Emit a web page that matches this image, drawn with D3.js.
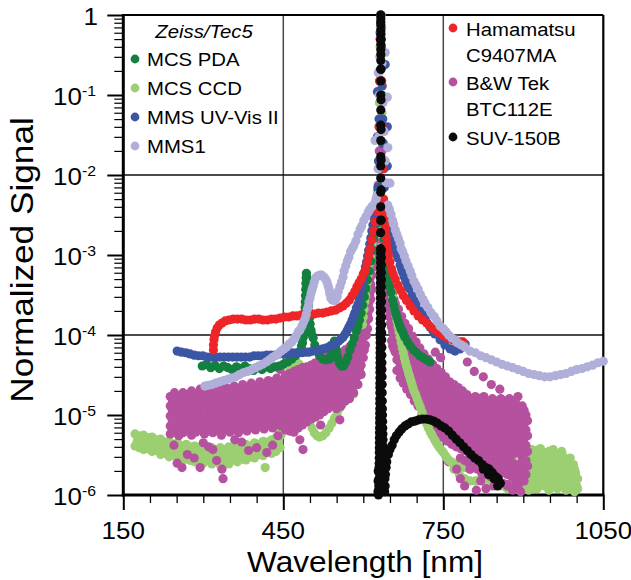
<!DOCTYPE html>
<html><head><meta charset="utf-8">
<script src="https://cdn.jsdelivr.net/npm/d3@7"></script>
<style>
body{margin:0;background:#fff}
svg{display:block}
text{font-family:"Liberation Sans",Arial,Helvetica,sans-serif;fill:#000}
</style>
</head><body>
<svg id="c" width="631" height="580"></svg>
<script>
// ---------------- DATA (wavelength nm, normalized signal) ----------------
const mcsCCD = [
[172,5.8e-6],[172,4.1e-6],[176,4.7e-6],[180,5.5e-6],[180,3.9e-6],[184,4.6e-6],[188,5.6e-6],[188,3.7e-6],[192,4.5e-6],[196,5.2e-6],[196,3.8e-6],[200,4.3e-6],
[204,5.3e-6],[204,3.5e-6],[208,4.1e-6],[212,4.9e-6],[212,3.6e-6],[216,4.0e-6],[220,5.0e-6],[220,3.2e-6],[224,3.9e-6],[228,4.6e-6],[228,3.3e-6],[232,3.7e-6],
[236,4.7e-6],[236,3.0e-6],[240,3.7e-6],[244,4.3e-6],[244,3.1e-6],[248,3.6e-6],[252,4.5e-6],[252,2.9e-6],[256,3.5e-6],[260,4.1e-6],[260,2.74e-6],[264,3.5e-6],
[268,4.3e-6],[268,2.8e-6],[272,3.3e-6],[276,4.0e-6],[276,2.7e-6],[280,3.3e-6],[284,4.1e-6],[284,2.6e-6],[288,3.2e-6],[292,3.9e-6],[292,2.74e-6],[296,3.2e-6],
[300,4.0e-6],[300,2.5e-6],[304,3.1e-6],[308,3.8e-6],[308,2.7e-6],[312,3.1e-6],[316,3.9e-6],[316,2.44e-6],[320,3.1e-6],[324,3.7e-6],[324,2.6e-6],[328,3.0e-6],
[332,3.9e-6],[332,2.37e-6],[336,3.1e-6],[340,3.7e-6],[340,2.7e-6],[344,3.2e-6],[348,4.0e-6],[348,2.44e-6],[352,3.2e-6],[356,3.8e-6],[356,2.74e-6],[360,3.3e-6],
[364,4.1e-6],[364,2.6e-6],[368,3.4e-6],[372,4.0e-6],[372,2.8e-6],[376,3.5e-6],[380,4.3e-6],[380,2.74e-6],[384,3.6e-6],[388,4.1e-6],[388,3.0e-6],[392,3.7e-6],
[396,4.5e-6],[396,2.9e-6],[400,3.8e-6],[404,4.3e-6],[404,3.2e-6],[408,3.9e-6],[412,4.7e-6],[412,3.1e-6],[416,4.0e-6],[416,2.2e-6],[420,4.6e-6],[420,3.4e-6],
[424,4.0e-6],[428,4.9e-6],[428,3.3e-6],[432,4.2e-6],[436,5.2e-6],[436,3.5e-6],[440,4.7e-6],[444,6.1e-6],[444,3.9e-6],
[445.5,5.6e-6],[447,6.9e-6],[448.5,8.0e-6],[450,9.2e-6],[451,1.05e-5],[452,1.22e-5],[453,1.4e-5],[454,1.63e-5],[455,1.9e-5],[456,2.18e-5],[457.5,2.5e-5],
[459,2.9e-5],[462,3.6e-5],[466,4.1e-5],[470,4.5e-5],[475,4.6e-5],[480,4.3e-5],[485,3.9e-5],[489,3.3e-5],[492,2.6e-5],[493,2.3e-5],[494,1.94e-5],[495,1.7e-5],
[496,1.45e-5],[497,1.25e-5],[498,1.09e-5],[499.5,9.7e-6],[501,8.4e-6],[504,6.9e-6],[508,6.0e-6],[513,5.5e-6],[518,5.3e-6],[524,5.5e-6],[530,6.0e-6],
[536,6.9e-6],[541,7.9e-6],[546,9.2e-6],[551,1.06e-5],[556,1.22e-5],[561,1.37e-5],[566,1.5e-5],[568,1.9e-5],[570,2.37e-5],[571,3.3e-5],[572,4.9e-5],
[573,5.6e-5],[574,6.5e-5],[575,6.3e-5],[576,5.5e-5],[577,4.6e-5],[578,3.7e-5],[579,2.9e-5],[580,2.18e-5],[582,1.83e-5],[585,2.37e-5],
[588,3.3e-5],[589.5,3.9e-5],[591,4.6e-5],[592.5,5.6e-5],[594,7.1e-5],[595.5,8.9e-5],[597,1.09e-4],[598.5,1.35e-4],[600,1.68e-4],[601.5,2.1e-4],
[603,2.6e-4],[604.5,3.1e-4],[606,3.8e-4],[607.5,4.6e-4],[609,5.5e-4],[610.5,6.5e-4],[612,7.9e-4],[613.5,9.4e-4],[615,1.15e-3],[616.5,1.4e-3],
[618,1.73e-3],[619.5,2.1e-3],[621,2.6e-3],[622.5,3.2e-3],[624,4.0e-3],[625.5,5.0e-3],[627,6.5e-3],
[629,0.015],[630.5,0.08],[631.5,0.4],[632.5,1.0],[633.5,0.35],[635,0.06],[636.2,0.012],
[637,5.0e-3],[638,3.7e-3],[639,2.9e-3],[640,2.3e-3],[641,1.9e-3],[642,1.6e-3],[643.5,1.3e-3],[645,1.05e-3],[646.5,8.5e-4],[648,7.0e-4],
[649.5,5.8e-4],[651,4.9e-4],[653,4.1e-4],[655,3.0e-4],[657,2.5e-4],[659,2.1e-4],[661,1.75e-4],[663,1.5e-4],[665,1.28e-4],[667,1.1e-4],
[669,9.4e-5],[671,8.0e-5],[673,6.9e-5],[675,6.0e-5],[677,5.2e-5],[679,4.6e-5],[681,4.1e-5],[683,3.7e-5],[685,3.3e-5],[687,3.0e-5],
[689,2.7e-5],[691,2.45e-5],[693,2.2e-5],[695,2.0e-5],[698,1.8e-5],[701,1.6e-5],[704,1.4e-5],[707,1.25e-5],[710,1.1e-5],[713,9.7e-6],
[716,8.7e-6],[719,7.7e-6],[722,6.9e-6],[726,6.1e-6],[729,5.6e-6],[733,5.0e-6],[736,4.6e-6],[740,4.2e-6],[743,3.9e-6],[747,3.6e-6],
[750,3.4e-6],[754,3.1e-6],[757,2.9e-6],[761,2.7e-6],[764,2.6e-6],
[770,2.5e-6],[770,2.1e-6],[780,2.3e-6],[780,1.8e-6],[790,2.2e-6],[790,1.6e-6],[800,2.1e-6],[800,1.5e-6],[810,2.4e-6],[810,1.5e-6],
[820,2.2e-6],[820,1.6e-6],[830,2.4e-6],[830,1.4e-6],[840,2.1e-6],[840,1.3e-6],[850,2.3e-6],[850,1.5e-6],[860,2.6e-6],[860,1.3e-6],
[870,2.2e-6],[870,1.2e-6],[880,2.9e-6],[880,1.5e-6],[890,3.2e-6],[890,1.7e-6],
[900,3.9e-6],[900,2.1e-6],[900,1.3e-6],[904,2.9e-6],[908,3.5e-6],[908,2.3e-6],[908,1.5e-6],[912,2.7e-6],[916,3.7e-6],[916,1.9e-6],[916,1.3e-6],
[920,2.2e-6],[924,3.2e-6],[924,2.6e-6],[924,1.6e-6],[928,2.9e-6],[932,3.8e-6],[932,2.1e-6],[932,1.5e-6],[936,1.7e-6],[940,3.1e-6],[940,2.2e-6],[940,1.3e-6],
[944,2.6e-6],[948,3.5e-6],[948,1.8e-6],[948,1.15e-6],[952,2.9e-6],[956,3.7e-6],[956,2.3e-6],[956,1.5e-6],[960,1.7e-6],[964,3.1e-6],[964,1.9e-6],[964,1.2e-6],
[968,2.7e-6],[972,3.5e-6],[972,2.4e-6],[972,1.6e-6],[976,2.1e-6],[980,2.7e-6],[980,1.7e-6],[980,1.15e-6],[984,1.5e-6],[988,2.9e-6],[988,2.1e-6],[988,1.3e-6],
[992,1.7e-6],[996,2.1e-6],[996,1.5e-6],[996,1.1e-6],[1000,1.3e-6],
[902,3.3e-6],[902,2.4e-6],[902,1.7e-6],[902,1.2e-6],[906,3.6e-6],[906,2.6e-6],[906,1.9e-6],[906,1.35e-6],[910,3.1e-6],[910,2.2e-6],[910,1.6e-6],[910,1.15e-6],
[914,3.4e-6],[914,2.5e-6],[914,1.8e-6],[918,3.0e-6],[918,2.3e-6],[918,1.6e-6],[918,1.2e-6],[922,3.6e-6],[922,2.0e-6],[922,1.4e-6],
[926,3.3e-6],[926,2.4e-6],[926,1.7e-6],[926,1.2e-6],[930,2.9e-6],[930,2.0e-6],[930,1.35e-6],[934,3.5e-6],[934,2.5e-6],[934,1.8e-6],
[938,3.0e-6],[938,1.95e-6],[938,1.4e-6],[942,3.4e-6],[942,2.4e-6],[942,1.6e-6],[946,2.9e-6],[946,2.1e-6],[946,1.3e-6],
[950,3.2e-6],[950,2.5e-6],[950,1.7e-6],[954,2.8e-6],[954,2.0e-6],[954,1.3e-6],[958,3.3e-6],[958,2.6e-6],[958,1.9e-6],[958,1.25e-6],
[962,2.7e-6],[962,2.1e-6],[962,1.45e-6],[966,3.0e-6],[966,2.3e-6],[966,1.6e-6],[970,2.8e-6],[970,1.9e-6],[970,1.35e-6],
[974,3.1e-6],[974,2.2e-6],[974,1.5e-6],[978,2.4e-6],[978,1.9e-6],[978,1.3e-6],[982,2.6e-6],[982,2.0e-6],[982,1.4e-6],
[986,2.5e-6],[986,1.7e-6],[986,1.2e-6],[990,2.3e-6],[990,1.8e-6],[990,1.3e-6],[994,2.4e-6],[994,1.6e-6],[994,1.2e-6],
[998,1.9e-6],[998,1.4e-6],[1002,1.6e-6],[1002,1.2e-6]
];

const mcsPDA = [
[298,4.1e-5],[306,4.3e-5],[314,3.9e-5],[322,4.2e-5],[330,3.8e-5],[338,4.1e-5],[346,3.9e-5],[354,3.7e-5],[362,4.0e-5],[370,3.8e-5],[378,4.1e-5],
[386,3.8e-5],[394,3.6e-5],[402,3.9e-5],[410,3.7e-5],[418,4.0e-5],[426,3.8e-5],[434,4.0e-5],[442,4.1e-5],[450,4.3e-5],[458,4.6e-5],[466,5.0e-5],
[473,5.5e-5],[479,6.1e-5],[484,7.3e-5],[486,8.0e-5],[487.5,9.4e-5],[488.5,1.1e-4],[489.2,1.3e-4],[489.8,1.55e-4],[490.3,1.85e-4],[490.8,2.2e-4],
[491.2,2.6e-4],[491.6,3.1e-4],[492,3.7e-4],[492.4,4.4e-4],[492.8,5.2e-4],[493.3,5.9e-4],[494,5.3e-4],[494.6,4.6e-4],[495.2,3.9e-4],[495.8,3.3e-4],
[496.5,2.74e-4],[497.3,2.3e-4],[498.2,1.94e-4],[499.2,1.63e-4],[500.4,1.37e-4],[502,1.15e-4],[504,1.0e-4],[506,9.2e-5],[509,7.5e-5],[513,6.3e-5],
[518,5.5e-5],[524,5.0e-5],[530,4.9e-5],[537,5.0e-5],[539,5.5e-5],[541,6.1e-5],[542.5,6.7e-5],[544,7.5e-5],[545,8.0e-5],[546,8.4e-5],[547,7.9e-5],
[548,7.3e-5],[549.5,6.5e-5],[551,5.6e-5],[553,5.0e-5],[555,4.5e-5],[557,4.3e-5],[559,4.1e-5],[563,4.1e-5],[567,4.6e-5],[571,5.3e-5],[575,6.5e-5],
[579,7.7e-5],[583,9.2e-5],[587,1.12e-4],[590,1.3e-4],[593,1.54e-4],[596,1.88e-4],[599,2.37e-4],[602,3.0e-4],[605,3.8e-4],[608,4.9e-4],[611,6.3e-4],
[614,8.4e-4],[617,1.15e-3],[620,1.63e-3],[621.5,2.0e-3],[623,2.44e-3],[624.5,3.1e-3],[626,3.9e-3],[627,5.0e-3],[628,6.5e-3],
[629,0.012],[630,0.04],[631,0.15],[632,0.5],[633,1.0],[634,0.4],[634.8,0.1],[635.4,0.025],[636,8e-3],
[636.5,4.2e-3],[637,3.2e-3],[637.6,2.5e-3],[638.3,2.0e-3],[639,1.6e-3],[640,1.3e-3],[641,1.1e-3],[642,9.2e-4],[643.5,7.7e-4],[645,6.5e-4],
[646.5,5.5e-4],[648,4.7e-4],[650,4.0e-4],[652,3.4e-4],[655,2.74e-4],[657,2.4e-4],[659,2.1e-4],[661,1.85e-4],[663,1.68e-4],[665.5,1.5e-4],
[668,1.33e-4],[670.5,1.2e-4],[673,1.12e-4],[675.5,1.03e-4],[678,9.4e-5],[683,8.2e-5],[688,7.3e-5],[694,6.5e-5],[700,6.0e-5],[706,5.5e-5],
[712,5.2e-5],[718,4.9e-5],[725,4.6e-5]
];

const bwTek = [
[238,1.7e-5],[238,1.3e-5],[238,9.7e-6],[238,7.3e-6],[238,5.8e-6],
[246,1.9e-5],[246,1.4e-5],[246,1.1e-5],[246,7.7e-6],[246,6.1e-6],
[254,1.7e-5],[254,1.3e-5],[254,9.2e-6],[254,6.9e-6],[254,5.5e-6],
[262,1.9e-5],[262,1.5e-5],[262,1.1e-5],[262,7.9e-6],[262,6.0e-6],
[270,1.8e-5],[270,1.3e-5],[270,1.0e-5],[270,7.5e-6],[270,6.3e-6],
[278,2.0e-5],[278,1.5e-5],[278,1.1e-5],[278,8.4e-6],[278,5.6e-6],
[286,1.8e-5],[286,1.4e-5],[286,1.0e-5],[286,7.1e-6],[286,6.1e-6],
[294,2.1e-5],[294,1.5e-5],[294,1.2e-5],[294,8.7e-6],[294,6.5e-6],
[302,1.9e-5],[302,1.4e-5],[302,1.0e-5],[302,7.5e-6],[302,5.8e-6],
[310,2.1e-5],[310,1.6e-5],[310,1.2e-5],[310,8.9e-6],[310,6.3e-6],
[318,1.9e-5],[318,1.4e-5],[318,1.1e-5],[318,7.9e-6],[318,6.0e-6],
[326,2.2e-5],[326,1.6e-5],[326,1.2e-5],[326,9.2e-6],[326,6.7e-6],
[334,2.0e-5],[334,1.5e-5],[334,1.1e-5],[334,7.7e-6],[334,5.6e-6],
[342,2.2e-5],[342,1.7e-5],[342,1.2e-5],[342,9.2e-6],[342,6.5e-6],
[350,2.1e-5],[350,1.5e-5],[350,1.2e-5],[350,8.4e-6],[350,6.1e-6],
[358,2.3e-5],[358,1.7e-5],[358,1.3e-5],[358,9.4e-6],[358,6.9e-6],
[366,2.1e-5],[366,1.6e-5],[366,1.1e-5],[366,8.2e-6],[366,6.0e-6],
[374,2.4e-5],[374,1.8e-5],[374,1.3e-5],[374,9.7e-6],[374,6.7e-6],
[382,2.2e-5],[382,1.6e-5],[382,1.2e-5],[382,8.7e-6],[382,6.3e-6],
[390,2.5e-5],[390,1.9e-5],[390,1.4e-5],[390,1.0e-5],[390,7.1e-6],
[398,2.3e-5],[398,1.7e-5],[398,1.3e-5],[398,9.2e-6],[398,6.5e-6],
[406,2.6e-5],[406,1.9e-5],[406,1.5e-5],[406,1.1e-5],[406,7.3e-6],
[414,2.4e-5],[414,1.8e-5],[414,1.3e-5],[414,9.4e-6],[414,6.7e-6],
[422,2.7e-5],[422,2.1e-5],[422,1.5e-5],[422,1.1e-5],[422,7.5e-6],
[430,2.6e-5],[430,1.9e-5],[430,1.4e-5],[430,1.0e-5],[430,6.9e-6],
[438,2.9e-5],[438,2.2e-5],[438,1.6e-5],[438,1.2e-5],[438,7.7e-6],
[446,2.7e-5],[446,2.0e-5],[446,1.5e-5],[446,1.1e-5],[446,7.3e-6],
[242,1.55e-5],[242,1.15e-5],[242,8.5e-6],[242,6.6e-6],[250,1.6e-5],[250,1.2e-5],[250,8.2e-6],[250,6.3e-6],
[258,1.6e-5],[258,1.25e-5],[258,9.0e-6],[258,6.6e-6],[266,1.65e-5],[266,1.2e-5],[266,8.8e-6],[266,6.9e-6],
[274,1.7e-5],[274,1.25e-5],[274,9.5e-6],[274,7.0e-6],[282,1.7e-5],[282,1.2e-5],[282,9.0e-6],[282,6.5e-6],
[290,1.75e-5],[290,1.3e-5],[290,1.0e-5],[290,7.3e-6],[298,1.7e-5],[298,1.3e-5],[298,9.2e-6],[298,6.8e-6],
[306,1.8e-5],[306,1.35e-5],[306,1.0e-5],[306,7.2e-6],[314,1.75e-5],[314,1.3e-5],[314,9.5e-6],[314,7.0e-6],
[322,1.85e-5],[322,1.4e-5],[322,1.0e-5],[322,7.4e-6],[330,1.8e-5],[330,1.3e-5],[330,9.5e-6],[330,6.8e-6],
[338,1.9e-5],[338,1.45e-5],[338,1.05e-5],[338,7.5e-6],[346,1.85e-5],[346,1.4e-5],[346,1.0e-5],[346,7.2e-6],
[354,1.95e-5],[354,1.45e-5],[354,1.1e-5],[354,7.8e-6],[362,1.9e-5],[362,1.35e-5],[362,1.0e-5],[362,7.2e-6],
[370,2.0e-5],[370,1.5e-5],[370,1.1e-5],[370,7.8e-6],[378,2.0e-5],[378,1.45e-5],[378,1.05e-5],[378,7.5e-6],
[386,2.1e-5],[386,1.6e-5],[386,1.15e-5],[386,8.2e-6],[394,2.1e-5],[394,1.5e-5],[394,1.1e-5],[394,7.8e-6],
[402,2.2e-5],[402,1.65e-5],[402,1.25e-5],[402,8.8e-6],[410,2.15e-5],[410,1.6e-5],[410,1.15e-5],[410,8.2e-6],
[418,2.35e-5],[418,1.75e-5],[418,1.3e-5],[418,9.0e-6],[426,2.3e-5],[426,1.65e-5],[426,1.2e-5],[426,8.5e-6],
[434,2.5e-5],[434,1.85e-5],[434,1.35e-5],[434,9.5e-6],[442,2.45e-5],[442,1.75e-5],[442,1.3e-5],[442,9.2e-6],
[450,2.6e-5],[450,1.9e-5],[450,1.4e-5],[450,1.0e-5],[450,7.5e-6],
[245,4.2e-6],[251,2.5e-6],[260,2.2e-6],[270,3.2e-6],[283,2.9e-6],[294,2.2e-6],[300,4.5e-6],[310,4.0e-6],[318,3.7e-6],[325,2.7e-6],
[335,2.1e-6],[337,1.6e-6],[359,4.9e-6],[372,4.6e-6],[385,3.6e-6],[400,3.9e-6],[419,3.4e-6],[430,4.2e-6],[440,5.5e-6],[444,3.7e-5],
[454,3.1e-5],[454,2.3e-5],[454,1.7e-5],[454,1.2e-5],[454,8.9e-6],[454,6.5e-6],
[462,3.3e-5],[462,2.4e-5],[462,1.8e-5],[462,1.3e-5],[462,9.2e-6],[462,6.3e-6],
[470,3.5e-5],[470,2.6e-5],[470,1.9e-5],[470,1.4e-5],[470,9.7e-6],[470,6.1e-6],
[478,3.7e-5],[478,2.7e-5],[478,2.0e-5],[478,1.5e-5],[478,1.0e-5],[478,6.9e-6],
[486,3.9e-5],[486,2.9e-5],[486,2.1e-5],[486,1.5e-5],[486,1.1e-5],[486,7.5e-6],
[494,4.0e-5],[494,3.0e-5],[494,2.2e-5],[494,1.6e-5],[494,1.2e-5],[494,8.2e-6],
[502,4.2e-5],[502,3.2e-5],[502,2.3e-5],[502,1.7e-5],[502,1.2e-5],[502,8.9e-6],
[510,4.5e-5],[510,3.4e-5],[510,2.4e-5],[510,1.8e-5],[510,1.3e-5],[510,9.4e-6],
[518,4.7e-5],[518,3.6e-5],[518,2.6e-5],[518,1.9e-5],[518,1.4e-5],[518,1.0e-5],
[526,5.2e-5],[526,3.9e-5],[526,2.8e-5],[526,2.1e-5],[526,1.5e-5],[526,1.1e-5],
[534,5.5e-5],[534,4.1e-5],[534,3.0e-5],[534,2.2e-5],[534,1.6e-5],[534,1.2e-5],
[542,6.1e-5],[542,4.6e-5],[542,3.4e-5],[542,2.4e-5],[542,1.8e-5],[542,1.3e-5],
[550,5.6e-5],[550,4.2e-5],[550,3.1e-5],[550,2.2e-5],[550,1.6e-5],[550,1.2e-5],
[558,6.0e-5],[558,4.5e-5],[558,3.4e-5],[558,2.5e-5],[558,1.8e-5],[558,1.3e-5],
[566,6.5e-5],[566,4.9e-5],[566,3.7e-5],[566,2.6e-5],[566,2.0e-5],[566,1.5e-5],
[574,7.1e-5],[574,5.3e-5],[574,4.0e-5],[574,3.0e-5],[574,2.2e-5],[574,1.6e-5],
[582,7.9e-5],[582,6.1e-5],[582,4.6e-5],[582,3.5e-5],[582,2.6e-5],[582,1.9e-5],
[590,9.7e-5],[590,7.5e-5],[590,5.6e-5],[590,4.2e-5],[590,3.2e-5],[590,2.4e-5],
[596,1.3e-4],[596,1.0e-4],[596,7.5e-5],[596,5.6e-5],[596,4.2e-5],[596,3.2e-5],
[458,2.8e-5],[458,2.1e-5],[458,1.5e-5],[458,1.1e-5],[458,7.8e-6],[466,3.0e-5],[466,2.2e-5],[466,1.6e-5],[466,1.15e-5],[466,7.7e-6],
[474,3.1e-5],[474,2.3e-5],[474,1.7e-5],[474,1.2e-5],[474,8.2e-6],[482,3.3e-5],[482,2.4e-5],[482,1.75e-5],[482,1.25e-5],[482,8.8e-6],
[490,3.4e-5],[490,2.55e-5],[490,1.85e-5],[490,1.35e-5],[490,9.5e-6],[498,3.6e-5],[498,2.6e-5],[498,1.9e-5],[498,1.4e-5],[498,1.0e-5],
[506,3.8e-5],[506,2.8e-5],[506,2.0e-5],[506,1.45e-5],[506,1.05e-5],[514,4.0e-5],[514,3.0e-5],[514,2.2e-5],[514,1.6e-5],[514,1.15e-5],
[522,4.4e-5],[522,3.3e-5],[522,2.4e-5],[522,1.75e-5],[522,1.25e-5],[530,4.7e-5],[530,3.5e-5],[530,2.6e-5],[530,1.9e-5],[530,1.35e-5],
[538,5.0e-5],[538,3.7e-5],[538,2.7e-5],[538,2.0e-5],[538,1.45e-5],[546,5.2e-5],[546,3.9e-5],[546,2.8e-5],[546,2.0e-5],[546,1.45e-5],
[554,5.1e-5],[554,3.8e-5],[554,2.8e-5],[554,2.1e-5],[554,1.5e-5],[562,5.6e-5],[562,4.2e-5],[562,3.1e-5],[562,2.3e-5],[562,1.7e-5],
[570,6.0e-5],[570,4.5e-5],[570,3.4e-5],[570,2.5e-5],[570,1.85e-5],[578,6.8e-5],[578,5.1e-5],[578,3.8e-5],[578,2.9e-5],[578,2.2e-5],
[586,8.5e-5],[586,6.6e-5],[586,5.0e-5],[586,3.8e-5],[586,2.8e-5],[593,1.1e-4],[593,8.5e-5],[593,6.4e-5],[593,4.8e-5],[593,3.6e-5],
[481,4.9e-6],[487,3.7e-6],[556,8.7e-6],[520,7.5e-6],
[600,1.5e-4],[600,1.1e-4],[600,7.5e-5],[600,5.2e-5],
[604,2.6e-4],[604,1.7e-4],[604,1.15e-4],[604,7.5e-5],
[608,4.2e-4],[608,2.7e-4],[608,1.8e-4],[608,1.2e-4],
[612,7.5e-4],[612,4.9e-4],[612,3.2e-4],[612,2.1e-4],
[616,1.2e-3],[616,8.2e-4],[616,5.6e-4],[616,3.7e-4],
[620,1.8e-3],[620,1.2e-3],[620,8.7e-4],
[623,2.7e-3],[623,2.0e-3],[626,4.2e-3],[626,3.2e-3],[628,7.5e-3],[628,5.6e-3],
[602,2.0e-4],[602,1.4e-4],[602,9.5e-5],[602,6.5e-5],[606,3.3e-4],[606,2.2e-4],[606,1.5e-4],[606,1.0e-4],
[610,5.6e-4],[610,3.8e-4],[610,2.5e-4],[610,1.6e-4],[614,9.5e-4],[614,6.5e-4],[614,4.3e-4],[614,2.8e-4],
[618,1.5e-3],[618,1.0e-3],[618,7.0e-4],[621.5,2.2e-3],[621.5,1.5e-3],[621.5,1.05e-3],[624.5,3.4e-3],[624.5,2.5e-3],[627,5.8e-3],[627,4.3e-3],
[630,0.02],[631,0.08],[632,0.3],[632.5,0.8],[633,1.0],[633.5,0.5],[634,0.15],[634.5,0.05],[635,0.02],[636,7e-3],
[637,3.7e-3],[637,2.4e-3],[637,1.5e-3],
[640,2.1e-3],[640,1.3e-3],[640,8.7e-4],[640,5.6e-4],
[643,1.2e-3],[643,7.5e-4],[643,4.9e-4],[643,3.2e-4],
[647,6.9e-4],[647,4.6e-4],[647,3.1e-4],[647,2.1e-4],
[651,4.5e-4],[651,3.1e-4],[651,2.1e-4],[651,1.4e-4],
[655,3.2e-4],[655,2.2e-4],[655,1.5e-4],[655,1.1e-4],[655,7.3e-5],
[660,2.5e-4],[660,1.8e-4],[660,1.3e-4],[660,8.7e-5],[660,6.1e-5],
[666,2.1e-4],[666,1.5e-4],[666,1.0e-4],[666,7.3e-5],[666,5.2e-5],
[672,1.7e-4],[672,1.2e-4],[672,8.7e-5],[672,6.1e-5],[672,4.3e-5],[672,3.1e-5],
[678,1.4e-4],[678,1.0e-4],[678,7.3e-5],[678,5.2e-5],[678,3.7e-5],[678,2.6e-5],
[685,1.2e-4],[685,8.4e-5],[685,6.1e-5],[685,4.3e-5],[685,3.1e-5],[685,2.2e-5],
[692,9.7e-5],[692,7.1e-5],[692,5.2e-5],[692,3.7e-5],[692,2.6e-5],[692,1.8e-5],
[699,8.2e-5],[699,6.0e-5],[699,4.3e-5],[699,3.1e-5],[699,2.2e-5],[699,1.5e-5],
[706,6.9e-5],[706,5.0e-5],[706,3.7e-5],[706,2.6e-5],[706,1.8e-5],[706,1.3e-5],
[714,5.8e-5],[714,4.2e-5],[714,3.1e-5],[714,2.2e-5],[714,1.6e-5],[714,1.1e-5],
[722,5.0e-5],[722,3.7e-5],[722,2.6e-5],[722,1.9e-5],[722,1.4e-5],[722,9.7e-6],
[730,4.3e-5],[730,3.2e-5],[730,2.3e-5],[730,1.7e-5],[730,1.2e-5],[730,8.4e-6],
[738,3.8e-5],[738,2.7e-5],[738,2.0e-5],[738,1.5e-5],[738,1.0e-5],[738,7.3e-6],
[746,3.4e-5],[746,2.4e-5],[746,1.8e-5],[746,1.3e-5],[746,9.2e-6],[746,6.5e-6],
[754,3.0e-5],[754,2.2e-5],[754,1.6e-5],[754,1.2e-5],[754,8.2e-6],[754,5.8e-6],
[762,2.6e-5],[762,1.9e-5],[762,1.4e-5],[762,1.0e-5],[762,7.3e-6],[762,5.2e-6],
[770,2.4e-5],[770,1.8e-5],[770,1.3e-5],[770,9.4e-6],[770,6.7e-6],[770,4.7e-6],
[778,2.2e-5],[778,1.6e-5],[778,1.2e-5],[778,8.4e-6],[778,6.1e-6],[778,4.3e-6],
[786,2.0e-5],[786,1.5e-5],[786,1.1e-5],[786,7.7e-6],[786,5.6e-6],[786,4.0e-6],
[794,1.8e-5],[794,1.3e-5],[794,9.7e-6],[794,7.1e-6],[794,5.2e-6],[794,3.7e-6],
[802,1.6e-5],[802,1.2e-5],[802,8.9e-6],[802,6.5e-6],[802,4.7e-6],[802,3.5e-6],
[810,1.7e-5],[810,1.2e-5],[810,8.9e-6],[810,6.5e-6],[810,4.6e-6],[810,3.3e-6],
[818,1.6e-5],[818,1.2e-5],[818,8.4e-6],[818,6.1e-6],[818,4.3e-6],[818,3.1e-6],
[826,1.7e-5],[826,1.2e-5],[826,8.4e-6],[826,6.0e-6],[826,4.2e-6],[826,2.9e-6],
[834,1.5e-5],[834,1.1e-5],[834,7.9e-6],[834,5.6e-6],[834,4.0e-6],[834,2.8e-6],
[842,1.6e-5],[842,1.2e-5],[842,8.2e-6],[842,5.8e-6],[842,4.1e-6],[842,2.7e-6],
[850,1.5e-5],[850,1.1e-5],[850,7.5e-6],[850,5.3e-6],[850,3.8e-6],[850,2.6e-6],
[858,1.6e-5],[858,1.1e-5],[858,7.9e-6],[858,5.5e-6],[858,3.8e-6],[858,2.4e-6],
[866,1.5e-5],[866,1.0e-5],[866,7.3e-6],[866,5.0e-6],[866,3.5e-6],[866,2.3e-6],
[874,1.6e-5],[874,1.1e-5],[874,7.7e-6],[874,5.3e-6],[874,3.6e-6],[874,2.2e-6],
[882,1.5e-5],[882,1.1e-5],[882,7.3e-6],[882,4.9e-6],[882,3.3e-6],[882,1.9e-6],
[890,1.7e-5],[890,1.2e-5],[890,7.7e-6],[890,5.2e-6],[890,3.4e-6],[890,1.7e-6],[890,1.3e-6],
[898,1.3e-5],[898,9.2e-6],[898,6.1e-6],[898,4.1e-6],[898,2.7e-6],[898,1.6e-6],
[905,1.0e-5],[905,6.5e-6],[905,4.2e-6],[905,2.7e-6],[905,1.8e-6],
[638.5,2.8e-3],[638.5,1.9e-3],[638.5,1.2e-3],[638.5,8.0e-4],[641.5,1.6e-3],[641.5,1.05e-3],[641.5,6.8e-4],[641.5,4.4e-4],
[645,9.0e-4],[645,6.0e-4],[645,3.9e-4],[645,2.6e-4],[649,5.6e-4],[649,3.8e-4],[649,2.6e-4],[649,1.7e-4],
[653,3.8e-4],[653,2.6e-4],[653,1.8e-4],[653,1.25e-4],[653,8.5e-5],[657.5,2.8e-4],[657.5,2.0e-4],[657.5,1.4e-4],[657.5,9.7e-5],[657.5,6.7e-5],
[663,1.95e-4],[663,1.4e-4],[663,9.8e-5],[663,6.9e-5],[663,4.9e-5],[663,3.6e-5],
[669,1.6e-4],[669,1.15e-4],[669,8.2e-5],[669,5.8e-5],[669,4.1e-5],[669,2.9e-5],
[675,1.35e-4],[675,9.7e-5],[675,7.0e-5],[675,5.0e-5],[675,3.5e-5],[675,2.5e-5],
[681.5,1.15e-4],[681.5,8.2e-5],[681.5,5.9e-5],[681.5,4.2e-5],[681.5,3.0e-5],[681.5,2.1e-5],
[688.5,9.5e-5],[688.5,6.8e-5],[688.5,4.9e-5],[688.5,3.5e-5],[688.5,2.5e-5],[688.5,1.8e-5],
[695.5,8.0e-5],[695.5,5.8e-5],[695.5,4.2e-5],[695.5,3.0e-5],[695.5,2.1e-5],[695.5,1.5e-5],
[702.5,6.8e-5],[702.5,4.9e-5],[702.5,3.5e-5],[702.5,2.5e-5],[702.5,1.8e-5],[702.5,1.3e-5],
[710,5.4e-5],[710,3.9e-5],[710,2.8e-5],[710,2.0e-5],[710,1.45e-5],[710,1.0e-5],
[718,4.6e-5],[718,3.4e-5],[718,2.45e-5],[718,1.75e-5],[718,1.25e-5],[718,8.7e-6],
[726,4.0e-5],[726,2.9e-5],[726,2.1e-5],[726,1.5e-5],[726,1.05e-5],[726,7.5e-6],
[734,3.5e-5],[734,2.5e-5],[734,1.85e-5],[734,1.3e-5],[734,9.2e-6],[734,6.6e-6],
[742,3.0e-5],[742,2.2e-5],[742,1.6e-5],[742,1.15e-5],[742,8.2e-6],[742,5.8e-6],
[750,2.7e-5],[750,2.0e-5],[750,1.45e-5],[750,1.05e-5],[750,7.4e-6],[750,5.2e-6],
[758,2.4e-5],[758,1.75e-5],[758,1.3e-5],[758,9.3e-6],[758,6.6e-6],[758,4.7e-6],
[766,2.2e-5],[766,1.6e-5],[766,1.15e-5],[766,8.4e-6],[766,6.0e-6],[766,4.3e-6],
[774,2.05e-5],[774,1.5e-5],[774,1.1e-5],[774,7.9e-6],[774,5.7e-6],[774,4.0e-6],
[782,1.9e-5],[782,1.4e-5],[782,1.0e-5],[782,7.3e-6],[782,5.3e-6],[782,3.8e-6],[782,2.9e-6],
[790,1.7e-5],[790,1.25e-5],[790,9.2e-6],[790,6.7e-6],[790,4.9e-6],[790,3.6e-6],[790,2.7e-6],
[798,1.5e-5],[798,1.1e-5],[798,8.3e-6],[798,6.1e-6],[798,4.5e-6],[798,3.3e-6],[798,2.5e-6],
[806,1.45e-5],[806,1.05e-5],[806,7.7e-6],[806,5.6e-6],[806,4.0e-6],[806,3.0e-6],[806,2.3e-6],
[814,1.4e-5],[814,1.0e-5],[814,7.3e-6],[814,5.2e-6],[814,3.7e-6],[814,2.7e-6],[814,2.1e-6],
[822,1.45e-5],[822,1.0e-5],[822,7.1e-6],[822,5.0e-6],[822,3.5e-6],[822,2.5e-6],[822,1.9e-6],
[830,1.3e-5],[830,9.5e-6],[830,6.7e-6],[830,4.8e-6],[830,3.4e-6],[830,2.4e-6],[830,1.8e-6],
[838,1.35e-5],[838,9.8e-6],[838,6.9e-6],[838,4.9e-6],[838,3.4e-6],[838,2.3e-6],[838,1.7e-6],
[846,1.3e-5],[846,9.2e-6],[846,6.4e-6],[846,4.5e-6],[846,3.2e-6],[846,2.2e-6],[846,1.6e-6],
[854,1.35e-5],[854,9.4e-6],[854,6.6e-6],[854,4.6e-6],[854,3.1e-6],[854,2.0e-6],[854,1.5e-6],
[862,1.3e-5],[862,8.9e-6],[862,6.2e-6],[862,4.2e-6],[862,2.9e-6],[862,1.9e-6],[862,1.4e-6],
[870,1.35e-5],[870,9.2e-6],[870,6.4e-6],[870,4.4e-6],[870,2.9e-6],[870,1.8e-6],[870,1.35e-6],
[878,1.3e-5],[878,8.9e-6],[878,6.0e-6],[878,4.1e-6],[878,2.6e-6],[878,1.7e-6],[878,1.25e-6],
[886,1.4e-5],[886,9.5e-6],[886,6.3e-6],[886,4.2e-6],[886,2.4e-6],[886,1.5e-6],
[894,1.15e-5],[894,7.5e-6],[894,5.0e-6],[894,3.3e-6],[894,2.1e-6],[894,1.45e-6],
[901.5,1.15e-5],[901.5,7.8e-6],[901.5,5.1e-6],[901.5,3.4e-6],[901.5,2.2e-6],[901.5,1.5e-6],
[908,8.5e-6],[908,5.5e-6],[908,3.5e-6],[908,2.3e-6],
[735,6.1e-5],[745,5.2e-5],[770,6.5e-5],[787,7.1e-5],[795,4.6e-5],[808,3.5e-5],[825,3.0e-5],[840,2.4e-5],[856,2.1e-5],
[760,2.6e-6],[775,2.1e-6],[782,1.6e-6],[790,1.3e-6],[800,2.1e-6],[812,1.15e-6],[820,1.5e-6],[830,1.2e-6],[845,1.3e-6],[870,1.3e-6],[880,1.15e-6],[895,1.1e-6]
];

const mmsUvVis = [
[251,6.3e-5],[259,6.1e-5],[267,6.0e-5],[275,5.8e-5],[283,5.6e-5],[291,5.5e-5],[299,5.5e-5],[307,5.3e-5],[315,5.3e-5],[323,5.3e-5],[331,5.3e-5],
[339,5.3e-5],[347,5.3e-5],[355,5.3e-5],[363,5.3e-5],[371,5.3e-5],[379,5.3e-5],[387,5.3e-5],[395,5.5e-5],[403,5.5e-5],[411,5.5e-5],[419,5.6e-5],
[427,5.6e-5],[435,5.6e-5],[443,5.8e-5],[451,5.8e-5],[459,5.8e-5],[467,6.0e-5],[475,6.0e-5],[485,6.0e-5],[492,6.1e-5],[498,6.1e-5],[505,6.3e-5],
[511,6.3e-5],[518,6.5e-5],[524,6.7e-5],[531,6.9e-5],[538,7.3e-5],[544,7.5e-5],[549,7.9e-5],[554,8.4e-5],[558,8.9e-5],[562,9.4e-5],[566,1.03e-4],
[570,1.15e-4],[573,1.26e-4],[576,1.37e-4],[579,1.54e-4],[582,1.73e-4],[584,1.88e-4],[587,2.18e-4],[590,2.44e-4],[592,2.9e-4],[594,3.4e-4],
[596,3.9e-4],[598,4.5e-4],[600,5.3e-4],[602,6.1e-4],[604,7.1e-4],[606,8.2e-4],[608,9.7e-4],[610,1.15e-3],[612,1.37e-3],[614,1.63e-3],
[616,2.0e-3],[618,2.37e-3],[620,2.9e-3],[622,3.45e-3],[624,4.2e-3],[626,5.2e-3],
[627.5,7e-3],[628.5,0.015],[629.5,0.05],[630.5,0.2],[631.5,0.6],[632.5,1.0],[633.5,0.7],[634.5,0.35],[635.5,0.13],[636.5,0.05],[637.5,0.025],
[638.5,0.012],[639.5,7e-3],[626.5,0.03],[626.5,0.11],[641,0.24],[645,0.04],[645,0.013],
[643,4.2e-3],[644.5,3.7e-3],[646,3.2e-3],[648,2.7e-3],[650,2.37e-3],[652,2.1e-3],[654,1.83e-3],[655.5,1.6e-3],[657,1.41e-3],[659,1.25e-3],
[661,1.12e-3],[663,1.0e-3],[665,9.2e-4],[669,7.5e-4],[671.5,6.7e-4],[674,6.0e-4],[677,5.3e-4],[680,4.7e-4],[683,4.2e-4],[686,3.8e-4],
[691,3.1e-4],[695,2.74e-4],[699,2.44e-4],[706,2.0e-4],[711,1.8e-4],[716,1.58e-4],[720,1.4e-4],[725,1.26e-4],[730,1.15e-4],[734,1.03e-4],
[744,8.7e-5],[753,7.5e-5],[763,6.7e-5],[772,6.3e-5],[781,6.7e-5],[791,7.7e-5]
];

const hamamatsu = [
[319,6.5e-5],[319,7.5e-5],[320,8.7e-5],[321,9.7e-5],[323,1.09e-4],[326,1.22e-4],[330,1.33e-4],[335,1.41e-4],[341,1.5e-4],[348,1.54e-4],
[356,1.58e-4],[364,1.58e-4],[372,1.58e-4],[380,1.54e-4],[388,1.54e-4],[396,1.58e-4],[404,1.58e-4],[412,1.54e-4],[420,1.54e-4],[428,1.58e-4],
[436,1.58e-4],[444,1.63e-4],[452,1.68e-4],[460,1.68e-4],[468,1.73e-4],[476,1.73e-4],[484,1.78e-4],[492,1.78e-4],[500,1.83e-4],[508,1.83e-4],
[516,1.88e-4],[524,1.88e-4],[532,1.94e-4],[540,2.0e-4],[548,2.05e-4],[555,2.18e-4],[562,2.3e-4],[568,2.5e-4],[574,2.74e-4],[579,3.1e-4],
[584,3.5e-4],[588,4.0e-4],[592,4.5e-4],[596,5.0e-4],[600,5.8e-4],[604,6.5e-4],[607,8.0e-4],[610,9.8e-4],[613,1.2e-3],[616,1.55e-3],
[619,2.0e-3],[622,2.6e-3],[625,3.5e-3],[627,4.6e-3],
[628.5,0.012],[629.5,0.04],[630.5,0.15],[631.5,0.5],[632.5,1.0],[633.5,0.5],[634.5,0.15],[635.5,0.04],[636.5,0.012],[638,5e-3],
[639,3.2e-3],[640,2.8e-3],[641,2.37e-3],[642,2.0e-3],[643,1.68e-3],[644,1.4e-3],[645,1.22e-3],[646,1.08e-3],[647,9.7e-4],[650,8.2e-4],
[653,6.7e-4],[656,5.8e-4],[660,5.0e-4],[665,4.2e-4],[670,3.6e-4],[675,3.1e-4],[681,2.7e-4],[688,2.3e-4],[695,2.0e-4],[703,1.73e-4],
[711,1.54e-4],[719,1.41e-4],[727,1.26e-4],[735,1.15e-4],[743,1.06e-4],[751,9.7e-5],[759,9.2e-5],[767,8.7e-5],[775,8.4e-5],[783,8.2e-5],[787,8.2e-5]
];

const mms1 = [
[303,2.3e-5],[309,2.35e-5],[316,2.4e-5],[323,2.5e-5],[331,2.6e-5],[338,2.7e-5],[346,2.8e-5],[353,2.9e-5],[361,3.0e-5],[368,3.2e-5],[376,3.4e-5],
[383,3.5e-5],[391,3.7e-5],[398,3.9e-5],[404,4.1e-5],[411,4.3e-5],[418,4.6e-5],[424,4.9e-5],[429,5.2e-5],[435,5.5e-5],[440,5.8e-5],[446,6.3e-5],
[451,6.7e-5],[456,7.1e-5],[461,7.7e-5],[466,8.2e-5],[470,8.9e-5],[474,9.7e-5],[478,1.1e-4],[481,1.15e-4],[485,1.3e-4],[488,1.45e-4],[491,1.6e-4],
[493,1.8e-4],[495,2.1e-4],[497,2.3e-4],[498,2.6e-4],[500,2.9e-4],[502,3.3e-4],[504,3.7e-4],[506,4.1e-4],[508,4.6e-4],[511,5.2e-4],[515,5.5e-4],
[519,5.6e-4],[522,5.6e-4],[526,5.3e-4],[529,5.0e-4],[532,4.6e-4],[534,4.1e-4],[536,3.7e-4],[537,3.3e-4],[539,2.9e-4],[542,2.74e-4],[545,2.7e-4],
[548,2.74e-4],[551,3.0e-4],[553,3.5e-4],[556,4.0e-4],[559,4.6e-4],[562,5.3e-4],[564,6.3e-4],[567,7.3e-4],[570,8.4e-4],[573,9.4e-4],[576,1.1e-3],
[579,1.2e-3],[582,1.3e-3],[586,1.5e-3],[590,1.8e-3],[594,2.1e-3],[597,2.3e-3],[601,2.7e-3],[605,3.0e-3],[609,3.4e-3],[612,3.7e-3],[616,4.0e-3],
[619,4.2e-3],[622,4.5e-3],[624,5.0e-3],[626,5.6e-3],
[628,0.012],[629,0.03],[630,0.1],[631,0.3],[632,0.7],[633,1.0],[634,0.6],[635,0.25],[637,0.08],[639,0.035],[641,0.015],[643,8e-3],
[628,0.19],[641,0.34],[645,0.094],[622,0.027],[646,0.022],[650,7.9e-3],
[646,4.2e-3],[649,3.7e-3],[652,3.2e-3],[655,2.7e-3],[657,2.4e-3],[660,2.05e-3],[663,1.8e-3],[666,1.6e-3],[669,1.4e-3],[671,1.2e-3],[674,1.1e-3],
[677,9.7e-4],[680,8.4e-4],[684,7.3e-4],[688,6.3e-4],[691,5.5e-4],[695,4.7e-4],[699,4.2e-4],[703,3.7e-4],[707,3.2e-4],[712,2.8e-4],[716,2.5e-4],
[721,2.2e-4],[727,1.9e-4],[733,1.7e-4],[738,1.5e-4],[744,1.3e-4],[750,1.2e-4],[755,1.1e-4],[760,1.0e-4],[766,9.2e-5],[772,8.7e-5],[778,7.9e-5],
[784,7.5e-5],[790,7.1e-5],[800,6.3e-5],[810,6.0e-5],[820,5.5e-5],[830,5.2e-5],[840,4.9e-5],[850,4.6e-5],[860,4.3e-5],[870,4.1e-5],[880,3.9e-5],
[890,3.7e-5],[900,3.5e-5],[910,3.3e-5],[920,3.2e-5],[930,3.1e-5],[940,3.0e-5],[950,3.0e-5],[960,3.1e-5],[970,3.2e-5],[980,3.3e-5],[990,3.5e-5],
[1000,3.7e-5],[1010,3.8e-5],[1020,4.0e-5],[1030,4.2e-5],[1040,4.5e-5],[1050,4.7e-5]
];

const suv150b = [
[627.5,1.1e-6],[627.8,1.5e-6],[628,2.0e-6],
[628.5,1.0e-6],[628.7,1.15e-6],[629,1.3e-6],[629.15,1.45e-6],[629.3,1.6e-6],[629.45,1.9e-6],[629.6,2.2e-6],[629.75,2.5e-6],[629.9,2.9e-6],[630,3.4e-6],
[630.1,3.9e-6],[630.2,4.5e-6],[630.3,5.2e-6],[630.4,6.0e-6],[630.5,6.9e-6],[630.6,8.0e-6],[630.7,9.2e-6],[630.8,1.05e-5],[630.9,1.2e-5],[630.95,1.4e-5],
[631,1.6e-5],[631.05,1.9e-5],[631.1,2.2e-5],[631.15,2.5e-5],[631.2,2.9e-5],[631.25,3.4e-5],[631.3,3.9e-5],[631.35,4.5e-5],[631.4,5.2e-5],[631.45,6.0e-5],
[631.5,6.9e-5],[631.55,8.0e-5],[631.6,9.2e-5],[631.65,1.05e-4],[631.7,1.2e-4],[631.75,1.4e-4],[631.8,1.6e-4],[631.85,1.9e-4],[631.9,2.2e-4],[631.95,2.5e-4],
[632,2.9e-4],[632.05,3.4e-4],[632.1,3.9e-4],[632.15,4.5e-4],[632.2,5.2e-4],[632.25,6.0e-4],[632.3,6.9e-4],[632.35,8.0e-4],[632.4,9.2e-4],[632.45,1.05e-3],
[632.5,1.2e-3],[632.5,1.9e-3],[632.6,2.7e-3],[632.6,4.0e-3],[632.7,6.1e-3],
[632.7,9.2e-3],[632.7,0.013],[632.8,0.017],[632.8,0.027],[632.8,0.042],[632.8,0.065],[632.8,0.1],[632.8,0.15],[632.8,0.21],[632.8,0.27],
[632.8,0.37],[632.8,0.49],[632.8,0.65],[632.8,0.82],[632.8,1.0],[632.9,0.9],[632.9,0.75],[632.9,0.57],[632.9,0.43],[632.9,0.32],
[633,0.49],[633.1,0.21],[633.2,0.087],[633.3,0.037],[633.4,0.0154],[633.5,6.5e-3],[633.6,2.74e-3],[633.7,1.15e-3],[633.75,9.3e-4],[633.8,7.5e-4],
[633.85,6.0e-4],[633.9,4.9e-4],[633.95,4.0e-4],[634,3.2e-4],[634.1,2.6e-4],[634.2,2.05e-4],[634.3,1.65e-4],[634.4,1.33e-4],[634.5,1.07e-4],[634.6,8.7e-5],
[634.7,7.0e-5],[634.8,5.6e-5],[634.9,4.5e-5],[635,3.7e-5],[635.15,3.0e-5],[635.3,2.4e-5],[635.45,1.9e-5],[635.6,1.5e-5],[635.8,1.2e-5],[636,1.0e-5],
[636.25,8.3e-6],[636.5,6.9e-6],[636.75,5.8e-6],[637,4.9e-6],[637.25,4.1e-6],[637.5,3.5e-6],[637.75,3.0e-6],[638,2.6e-6],[638.4,2.3e-6],[638.8,2.1e-6],
[639,1.2e-6],[639.5,1.7e-6],[640,1.1e-6],[640.5,1.6e-6],[641,1.3e-6],[641.5,1.8e-6],[642.8,2.2e-6],
[644,2.6e-6],[647,3.2e-6],[650,3.7e-6],[654,4.2e-6],[658,4.9e-6],[662,5.5e-6],[667,6.1e-6],[672,6.7e-6],[678,7.3e-6],[684,7.7e-6],[690,8.2e-6],
[697,8.4e-6],[704,8.7e-6],[711,8.9e-6],[718,8.9e-6],[725,8.7e-6],[732,8.4e-6],[739,7.9e-6],[746,7.3e-6],[753,6.9e-6],[760,6.3e-6],[767,5.6e-6],
[774,5.0e-6],[781,4.5e-6],[788,4.0e-6],[795,3.6e-6],[802,3.2e-6],[809,2.9e-6],[816,2.7e-6],[823,2.4e-6],[830,2.2e-6],[836,2.1e-6],[842,1.9e-6],
[848,1.7e-6],[853,1.6e-6],[857,1.4e-6],[825,2.1e-6],[835,1.8e-6],[845,1.6e-6],[852,1.3e-6]
];

// axis / tick / legend definitions
const xDomain = [150, 1050];
const yDomain = [1e-6, 1];
const xMajorTicks = [150, 450, 750, 1050];
const xMinorTicks = [200, 250, 300, 350, 400, 500, 550, 600, 650, 700, 800, 850, 900, 950, 1000];
const yMajorTicks = [1, 1e-1, 1e-2, 1e-3, 1e-4, 1e-5, 1e-6];
const yExponents = [0, -1, -2, -3, -4, -5, -6];
const xGrid = [450, 750];
const yGrid = [1e-2, 1e-4];
const xTitle = "Wavelength [nm]";
const yTitle = "Normalized Signal";

const colors = {
  mcsPDA: "#13803f", mcsCCD: "#9ccf72", mmsUvVis: "#3b56a5", mms1: "#afafd9",
  hamamatsu: "#ee2528", bwTek: "#b5519e", suv150b: "#0b0b0b"
};
// the MCS CCD flanks of the laser line lie above the B&W Tek cloud, the rest of it below
const ccdFrontRange = [598, 766];
const inFront = d => d[0] >= ccdFrontRange[0] && d[0] <= ccdFrontRange[1];
// drawing order (back to front)
const seriesOrder = [
  ["mcsCCD", mcsCCD.filter(d => !inFront(d))], ["bwTek", bwTek], ["mcsCCD", mcsCCD.filter(inFront)],
  ["mcsPDA", mcsPDA], ["mmsUvVis", mmsUvVis], ["hamamatsu", hamamatsu], ["mms1", mms1], ["suv150b", suv150b]
];
const leftLegendTitle = "Zeiss/Tec5";
const leftLegend = [["MCS PDA", "mcsPDA"], ["MCS CCD", "mcsCCD"], ["MMS UV-Vis II", "mmsUvVis"], ["MMS1", "mms1"]];
const rightLegend = [[["Hamamatsu", "C9407MA"], "hamamatsu"], [["B&W Tek", "BTC112E"], "bwTek"], [["SUV-150B"], "suv150b"]];

// ---------------- DRAWING ----------------
const svg = d3.select("#c");
const L = 123.3, R = 603.3, T = 15, B = 495;
const x = d3.scaleLinear().domain(xDomain).range([L, R]);
const y = d3.scaleLog().domain(yDomain).range([B, T]);
const SX = 1.13;

function stext(parent, px, py, str, size, anchor, opts = {}) {
  const g = parent.append("g").attr("transform", `translate(${px},${py}) scale(${opts.sx || SX},1)`);
  const t = g.append("text").attr("x", 0).attr("y", 0).attr("font-size", size).attr("text-anchor", anchor);
  if (opts.italic) t.attr("font-style", "italic");
  if (str !== null) t.text(str);
  return t;
}

// grid
svg.append("g").selectAll("line").data(xGrid).join("line")
  .attr("x1", d => x(d)).attr("x2", d => x(d)).attr("y1", T).attr("y2", B)
  .attr("stroke", "#4a4a4a").attr("stroke-width", 1.5);
svg.append("g").selectAll("line").data(yGrid).join("line")
  .attr("x1", L).attr("x2", R).attr("y1", d => y(d)).attr("y2", d => y(d))
  .attr("stroke", "#111").attr("stroke-width", 1.4);

// ticks
const yMinor = [];
for (let e = -6; e < 0; e++) for (let m = 2; m <= 9; m++) yMinor.push(m * Math.pow(10, e));
const yMinorAxis = svg.append("g").attr("transform", `translate(${L},0)`)
  .call(d3.axisLeft(y).tickValues(yMinor).tickSize(9).tickFormat(""));
yMinorAxis.select(".domain").remove();
yMinorAxis.selectAll("line").attr("stroke", "#000").attr("stroke-width", 1.2);
const yMajorAxis = svg.append("g").attr("transform", `translate(${L},0)`)
  .call(d3.axisLeft(y).tickValues(yMajorTicks).tickSize(16).tickFormat(""));
yMajorAxis.select(".domain").remove();
yMajorAxis.selectAll("line").attr("stroke", "#000").attr("stroke-width", 2);

const xMinorAxis = svg.append("g").attr("transform", `translate(0,${B})`)
  .call(d3.axisBottom(x).tickValues(xMinorTicks).tickSize(8).tickFormat(""));
xMinorAxis.select(".domain").remove();
xMinorAxis.selectAll("line").attr("stroke", "#000").attr("stroke-width", 1.3);
const xMajorAxis = svg.append("g").attr("transform", `translate(0,${B})`)
  .call(d3.axisBottom(x).tickValues(xMajorTicks).tickSize(15).tickFormat(""));
xMajorAxis.select(".domain").remove();
xMajorAxis.selectAll("line").attr("stroke", "#000").attr("stroke-width", 2);

// frame
svg.append("line").attr("x1", L).attr("x2", R).attr("y1", T).attr("y2", T).attr("stroke", "#000").attr("stroke-width", 2.2);
svg.append("line").attr("x1", R).attr("x2", R).attr("y1", T).attr("y2", B).attr("stroke", "#000").attr("stroke-width", 2.2);
svg.append("line").attr("x1", L).attr("x2", L).attr("y1", T - 1).attr("y2", B + 1.5).attr("stroke", "#000").attr("stroke-width", 3);
svg.append("line").attr("x1", L - 1.5).attr("x2", R + 1).attr("y1", B).attr("y2", B).attr("stroke", "#000").attr("stroke-width", 3);

// tick labels
const lab = svg.append("g");
xMajorTicks.forEach(v => stext(lab, x(v), 539, String(v), 23, "middle"));
yMajorTicks.forEach((v, i) => {
  const e = yExponents[i];
  if (e === 0) { stext(lab, 98, y(v) + 10, "1", 23, "end"); return; }
  const t = stext(lab, 96, y(v) + 10, null, 23, "end");
  t.append("tspan").text("10");
  t.append("tspan").attr("font-size", 14).attr("dy", -9).text(String(e));
});

// axis titles
stext(svg, 365, 572, xTitle, 29, "middle", { sx: 1.09 });
svg.append("g").attr("transform", "translate(33,260) rotate(-90) scale(1.1,1)")
  .append("text").attr("font-size", 32).attr("text-anchor", "middle").text(yTitle);

// data points
const R_DOT = 4.6;
seriesOrder.forEach(([key, data]) => {
  svg.append("g").attr("fill", colors[key]).selectAll("circle").data(data).join("circle")
    .attr("cx", d => x(d[0])).attr("cy", d => y(d[1])).attr("r", R_DOT);
});

// legends
const lg = svg.append("g");
stext(lg, 204, 38, leftLegendTitle, 18, "middle", { italic: true });
leftLegend.forEach(([name, key], i) => {
  const by = 66 + i * 29;
  lg.append("circle").attr("cx", 135).attr("cy", by - 7).attr("r", 4.4).attr("fill", colors[key]);
  stext(lg, 147, by, name, 18, "start");
});
const rightY = [36, 90, 145];
rightLegend.forEach(([lines, key], i) => {
  const by = rightY[i];
  lg.append("circle").attr("cx", 453).attr("cy", by - 8).attr("r", 4.4).attr("fill", colors[key]);
  lines.forEach((s, j) => stext(lg, 466, by + j * 26, s, 18, "start"));
});
</script>
</body></html>
